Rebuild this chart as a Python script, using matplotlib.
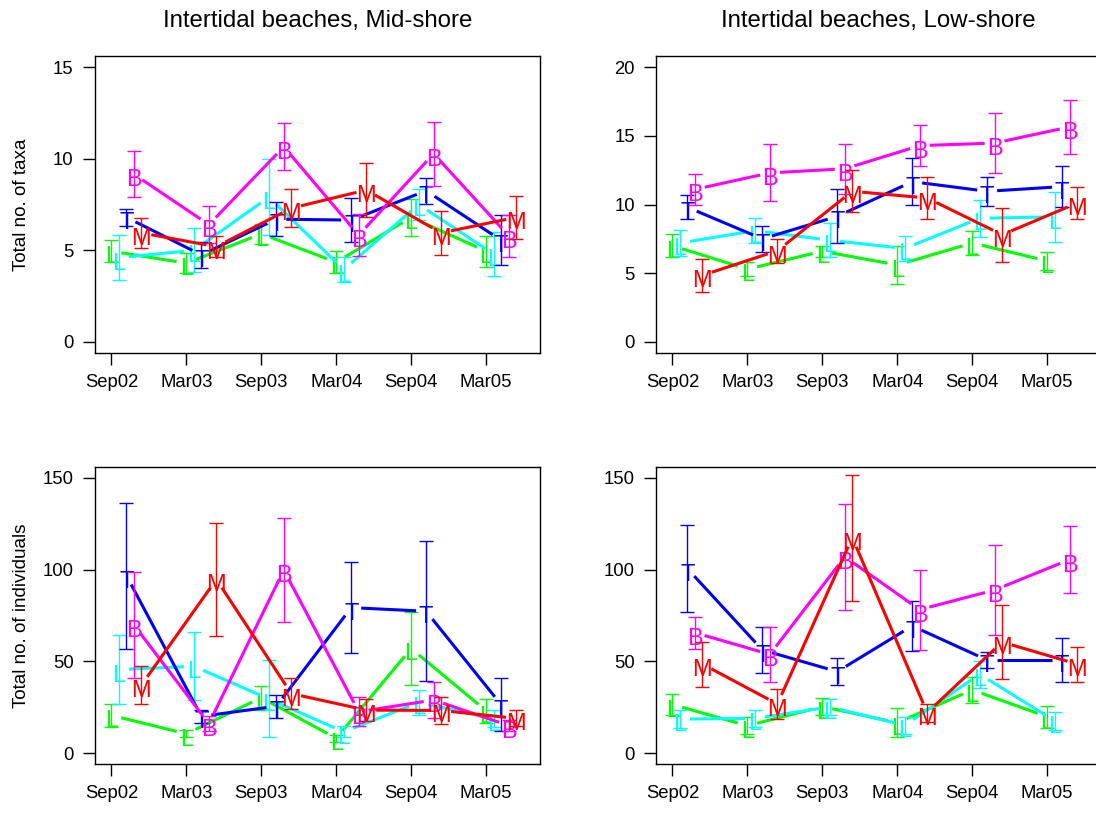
import numpy as np
import matplotlib
matplotlib.use("Agg")
import matplotlib.pyplot as plt
from matplotlib import transforms

plt.rcParams["font.family"] = ["Liberation Sans", "DejaVu Sans"]

# Sampling dates
dates = ["Sep02", "Mar03", "Sep03", "Mar04", "Sep04", "Mar05"]

# Series: plotting letter, colour, horizontal dodge
letters = ["L", "L", "T", "B", "M"]
colours = ["#00FF00", "#00FFFF", "#0000FF", "#FF00FF", "#FF0000"]
dodge = [0.0, 0.1, 0.2, 0.3, 0.4]

# Mid-shore, number of taxa (mean, standard error)
mid_taxa_mean = [
    [4.95, 4.3, 5.9, 4.35, 6.8, 4.95],
    [4.6, 5.0, 7.9, 3.95, 7.5, 4.8],
    [6.8, 4.75, 6.7, 6.65, 8.25, 5.55],
    [9.15, 6.4, 10.65, 5.83, 10.27, 5.8],
    [5.95, 5.2, 7.3, 8.29, 5.95, 6.8],
]
mid_taxa_se = [
    [0.59, 0.55, 0.55, 0.59, 1.02, 0.85],
    [1.22, 1.2, 2.07, 0.67, 0.82, 1.18],
    [0.47, 0.7, 0.92, 1.19, 0.72, 1.37],
    [1.25, 1.0, 1.29, 1.14, 1.75, 1.14],
    [0.82, 0.58, 1.02, 1.45, 1.2, 1.16],
]

# Low-shore, number of taxa
low_taxa_mean = [
    [7.0, 5.3, 6.6, 5.6, 7.2, 5.9],
    [7.2, 8.1, 7.4, 6.8, 9.0, 9.1],
    [9.8, 7.5, 9.14, 11.66, 10.96, 11.3],
    [11.1, 12.3, 12.6, 14.28, 14.47, 15.64],
    [4.85, 6.64, 10.96, 10.47, 7.8, 10.1],
]
low_taxa_se = [
    [0.85, 0.5, 0.4, 1.4, 0.85, 0.63],
    [0.95, 0.9, 1.25, 0.9, 1.35, 1.83],
    [0.87, 0.92, 1.96, 1.7, 1.05, 1.5],
    [1.14, 2.08, 1.8, 1.5, 2.2, 1.99],
    [1.18, 0.87, 1.54, 1.54, 1.98, 1.18],
]

# Mid-shore, number of individuals
mid_ind_mean = [
    [20.5, 10.5, 30.2, 8.0, 57.0, 23.0],
    [45.5, 47.3, 29.5, 11.5, 27.6, 18.7],
    [96.7, 20.0, 25.5, 79.3, 77.3, 26.4],
    [69.8, 16.0, 99.8, 22.5, 28.9, 15.0],
    [37.1, 94.7, 32.4, 23.4, 23.2, 18.9],
]
mid_ind_se = [
    [6.4, 2.0, 6.5, 2.0, 20.0, 6.5],
    [18.6, 18.5, 21.0, 3.0, 7.0, 4.6],
    [39.7, 3.5, 6.4, 24.7, 38.2, 14.5],
    [29.0, 4.0, 28.4, 7.9, 9.7, 3.0],
    [10.2, 31.0, 8.6, 6.0, 7.4, 4.4],
]

# Low-shore, number of individuals
low_ind_mean = [
    [26.4, 14.9, 25.3, 16.5, 34.4, 19.8],
    [18.5, 18.9, 25.1, 15.1, 43.0, 17.6],
    [100.5, 56.2, 44.4, 69.3, 50.7, 50.7],
    [65.6, 53.8, 107.0, 78.2, 88.9, 105.5],
    [48.5, 26.7, 117.5, 22.0, 60.5, 48.5],
]
low_ind_se = [
    [5.9, 4.5, 4.5, 7.9, 7.0, 6.1],
    [4.9, 4.5, 4.4, 4.7, 7.3, 5.0],
    [23.8, 12.5, 7.3, 13.8, 4.3, 12.0],
    [8.8, 14.8, 28.8, 21.8, 24.3, 18.3],
    [12.3, 8.2, 34.4, 5.0, 20.2, 9.5],
]

W, H, DPI = 1096, 816, 100
fig = plt.figure(figsize=(W / DPI, H / DPI), dpi=DPI)


def add_panel(left_px, top_px, w_px=445, h_px=297):
    return fig.add_axes([left_px / W, 1 - (top_px + h_px) / H, w_px / W, h_px / H])


def draw_panel(ax, means, ses, ymax, yticks, title=None, ylabel=None):
    x0 = np.arange(1, len(dates) + 1)
    pad = 0.04 * ymax
    ax.set_xlim(1 - 0.04 * 5.5, 6.5 + 0.04 * 5.5)
    ax.set_ylim(-pad, ymax + pad)
    gap = 10.0  # pixels left blank around each letter
    for k in range(len(letters)):
        xs = x0 + dodge[k]
        ys = np.asarray(means[k], float)
        es = np.asarray(ses[k], float)
        col = colours[k]
        # error bars
        ax.errorbar(xs, ys, yerr=es, fmt="none", ecolor=col, elinewidth=1.0,
                    capsize=4.8, capthick=1.0, zorder=2 + k)
        # connecting segments with gaps at the points (type "b")
        disp = ax.transData.transform(np.column_stack([xs, ys]))
        inv = ax.transData.inverted()
        for i in range(len(xs) - 1):
            p, q = disp[i], disp[i + 1]
            d = q - p
            L = np.hypot(*d)
            if L <= 2 * gap:
                continue
            u = d / L
            a = inv.transform(p + u * gap)
            b = inv.transform(q - u * gap)
            ax.plot([a[0], b[0]], [a[1], b[1]], color=col, lw=2.2,
                    solid_capstyle="butt", zorder=2 + k)
        # letters
        tr = transforms.offset_copy(ax.transData, fig=fig, x=0, y=-12, units="dots")
        for xv, yv in zip(xs, ys):
            ax.text(xv, yv, letters[k], color=col, fontsize=17, ha="center",
                    va="baseline", transform=tr, zorder=3 + k)
    ax.set_xticks(x0)
    ax.set_xticklabels(dates)
    ax.set_yticks(yticks)
    ax.set_yticklabels([str(t) for t in yticks])
    ax.tick_params(direction="out", length=8.8, width=1.0, labelsize=13.3,
                   pad=6.5, colors="black")
    for s in ax.spines.values():
        s.set_linewidth(1.0)
        s.set_color("black")
    if title:
        ax.text(0.5, 1 + 35 / 297, title, transform=ax.transAxes, ha="center",
                va="center", fontsize=17.3)
    if ylabel:
        bb = ax.get_position()
        fig.text(22 / W, (bb.y0 + bb.y1) / 2, ylabel, rotation=90,
                 ha="center", va="center", fontsize=13.6)


ax1 = add_panel(95, 56)
ax2 = add_panel(656, 56)
ax3 = add_panel(95, 467)
ax4 = add_panel(656, 467)

draw_panel(ax1, mid_taxa_mean, mid_taxa_se, 15, [0, 5, 10, 15],
           title="Intertidal beaches, Mid-shore", ylabel="Total no. of taxa")
draw_panel(ax2, low_taxa_mean, low_taxa_se, 20, [0, 5, 10, 15, 20],
           title="Intertidal beaches, Low-shore")
draw_panel(ax3, mid_ind_mean, mid_ind_se, 150, [0, 50, 100, 150],
           ylabel="Total no. of individuals")
draw_panel(ax4, low_ind_mean, low_ind_se, 150, [0, 50, 100, 150])

fig.savefig("out.png", dpi=DPI, facecolor="white")
